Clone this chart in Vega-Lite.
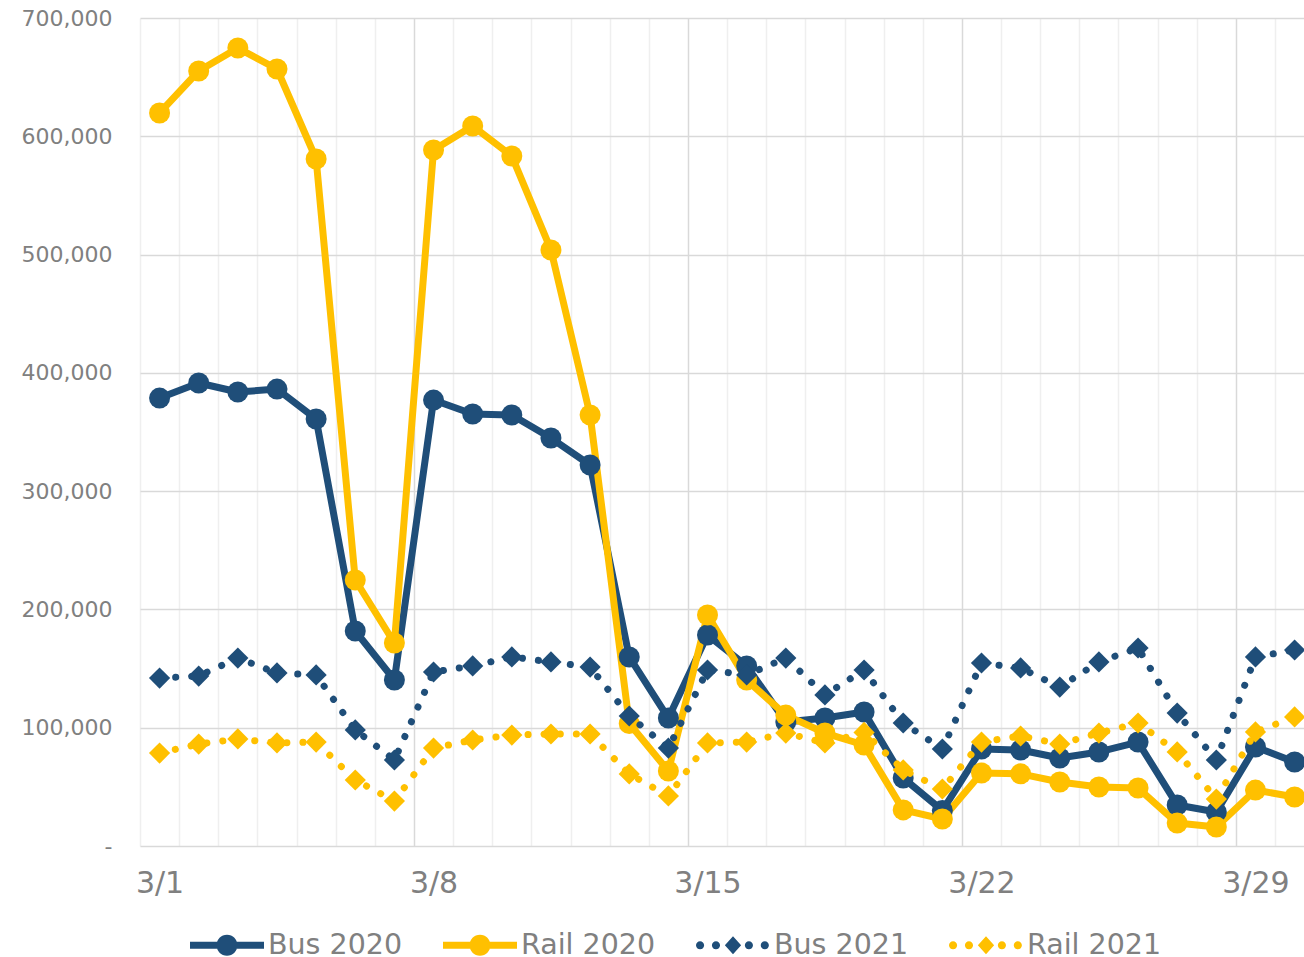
{
  "$schema": "https://vega.github.io/schema/vega-lite/v6.json",
  "width": 1164,
  "height": 828,
  "autosize": {"type": "none"},
  "padding": {"left": 140, "top": 18, "right": 0, "bottom": 111},
  "background": "white",
  "config": {
    "view": {"stroke": null},
    "font": "DejaVu Sans"
  },
  "data": {
    "values": [
      {"day": 1, "Bus 2020": 378700, "Rail 2020": 619700, "Bus 2021": 142000, "Rail 2021": 78600},
      {"day": 2, "Bus 2020": 391400, "Rail 2020": 655200, "Bus 2021": 143700, "Rail 2021": 86200},
      {"day": 3, "Bus 2020": 383800, "Rail 2020": 674600, "Bus 2021": 158900, "Rail 2021": 90500},
      {"day": 4, "Bus 2020": 386300, "Rail 2020": 656900, "Bus 2021": 146300, "Rail 2021": 87100},
      {"day": 5, "Bus 2020": 361000, "Rail 2020": 580800, "Bus 2021": 144600, "Rail 2021": 87900},
      {"day": 6, "Bus 2020": 181800, "Rail 2020": 224900, "Bus 2021": 98100, "Rail 2021": 55800},
      {"day": 7, "Bus 2020": 140300, "Rail 2020": 171600, "Bus 2021": 72700, "Rail 2021": 38000},
      {"day": 8, "Bus 2020": 377000, "Rail 2020": 588400, "Bus 2021": 147100, "Rail 2021": 82800},
      {"day": 9, "Bus 2020": 365200, "Rail 2020": 608700, "Bus 2021": 152200, "Rail 2021": 89600},
      {"day": 10, "Bus 2020": 364400, "Rail 2020": 583300, "Bus 2021": 159800, "Rail 2021": 93800},
      {"day": 11, "Bus 2020": 344900, "Rail 2020": 503900, "Bus 2021": 155600, "Rail 2021": 94700},
      {"day": 12, "Bus 2020": 322100, "Rail 2020": 364400, "Bus 2021": 151300, "Rail 2021": 94700},
      {"day": 13, "Bus 2020": 159800, "Rail 2020": 103500, "Bus 2021": 109900, "Rail 2021": 60900},
      {"day": 14, "Bus 2020": 108200, "Rail 2020": 63400, "Bus 2021": 82800, "Rail 2021": 42300},
      {"day": 15, "Bus 2020": 178400, "Rail 2020": 195300, "Bus 2021": 148800, "Rail 2021": 87100},
      {"day": 16, "Bus 2020": 152200, "Rail 2020": 140300, "Bus 2021": 144600, "Rail 2021": 87900},
      {"day": 17, "Bus 2020": 104800, "Rail 2020": 110700, "Bus 2021": 158900, "Rail 2021": 95500},
      {"day": 18, "Bus 2020": 108200, "Rail 2020": 95500, "Bus 2021": 127700, "Rail 2021": 87100},
      {"day": 19, "Bus 2020": 113300, "Rail 2020": 85400, "Bus 2021": 148800, "Rail 2021": 96000},
      {"day": 20, "Bus 2020": 57500, "Rail 2020": 30500, "Bus 2021": 104000, "Rail 2021": 64300},
      {"day": 21, "Bus 2020": 30000, "Rail 2020": 22800, "Bus 2021": 82000, "Rail 2021": 48200},
      {"day": 22, "Bus 2020": 82000, "Rail 2020": 61700, "Bus 2021": 154700, "Rail 2021": 87900},
      {"day": 23, "Bus 2020": 81200, "Rail 2020": 61000, "Bus 2021": 150500, "Rail 2021": 93000},
      {"day": 24, "Bus 2020": 74400, "Rail 2020": 54100, "Bus 2021": 134400, "Rail 2021": 86200},
      {"day": 25, "Bus 2020": 79500, "Rail 2020": 49900, "Bus 2021": 155600, "Rail 2021": 95500},
      {"day": 26, "Bus 2020": 87900, "Rail 2020": 49000, "Bus 2021": 167400, "Rail 2021": 104000},
      {"day": 27, "Bus 2020": 34700, "Rail 2020": 19400, "Bus 2021": 112400, "Rail 2021": 79500},
      {"day": 28, "Bus 2020": 28700, "Rail 2020": 16100, "Bus 2021": 72700, "Rail 2021": 39700},
      {"day": 29, "Bus 2020": 83700, "Rail 2020": 47300, "Bus 2021": 159800, "Rail 2021": 96400},
      {"day": 30, "Bus 2020": 71000, "Rail 2020": 41400, "Bus 2021": 165700, "Rail 2021": 109100}
    ]
  },
  "transform": [
    {"fold": ["Bus 2020", "Rail 2020", "Bus 2021", "Rail 2021"], "as": ["series", "riders"]}
  ],
  "encoding": {
    "x": {
      "field": "day",
      "type": "quantitative",
      "scale": {"domain": [0.5, 30.24], "nice": false, "zero": false},
      "axis": {
        "title": null,
        "values": [0.5, 1, 1.5, 2.5, 3.5, 4.5, 5.5, 6.5, 7.5, 8, 8.5, 9.5, 10.5, 11.5, 12.5, 13.5, 14.5, 15, 15.5, 16.5, 17.5, 18.5, 19.5, 20.5, 21.5, 22, 22.5, 23.5, 24.5, 25.5, 26.5, 27.5, 28.5, 29, 29.5],
        "labelExpr": "datum.value % 1 == 0 ? '3/' + datum.value : ''",
        "labelOverlap": false,
        "labelFlush": false,
        "labelFontSize": 30,
        "labelColor": "#808080",
        "labelPadding": 22,
        "ticks": false,
        "tickSize": 0,
        "domain": false,
        "grid": true,
        "gridWidth": 1.5,
        "gridColor": {"condition": {"test": "datum.value > 1 && datum.value % 7 == 0.5", "value": "#d9d9d9"}, "value": "#efefef"},
        "gridOpacity": {"condition": {"test": "datum.value % 1 == 0", "value": 0}, "value": 1}
      }
    },
    "y": {
      "field": "riders",
      "type": "quantitative",
      "scale": {"domain": [0, 700000], "nice": false},
      "axis": {
        "title": null,
        "values": [0, 100000, 200000, 300000, 400000, 500000, 600000, 700000],
        "labelExpr": "datum.value == 0 ? '-\u00a0\u00a0' : format(datum.value, ',')",
        "labelFontSize": 22,
        "labelColor": "#808080",
        "labelPadding": 28,
        "ticks": false,
        "tickSize": 0,
        "domain": false,
        "grid": true,
        "gridColor": "#d9d9d9",
        "gridWidth": 1.5
      }
    },
    "color": {
      "field": "series",
      "type": "nominal",
      "scale": {
        "domain": ["Bus 2020", "Rail 2020", "Bus 2021", "Rail 2021"],
        "range": ["#1f4e79", "#ffc000", "#1f4e79", "#ffc000"]
      },
      "legend": {
        "orient": "none",
        "legendX": 50,
        "legendY": 890,
        "direction": "horizontal",
        "columns": 4,
        "title": null,
        "padding": 0,
        "symbolSize": 5476,
        "symbolStrokeWidth": 0,
        "symbolOpacity": 1,
        "symbolType": {"expr": "indexof(datum.value, '2020') >= 0 ? 'M-1,-0.095 L-0.27,-0.095 L-0.27,0.095 L-1,0.095 Z M0.27,-0.095 L1,-0.095 L1,0.095 L0.27,0.095 Z M-0.284,0 A0.284,0.284 0 1,1 0.284,0 A0.284,0.284 0 1,1 -0.284,0 Z' : 'M-1,0 A0.11,0.11 0 1,1 -0.78,0 A0.11,0.11 0 1,1 -1,0 Z M-0.57,0 A0.11,0.11 0 1,1 -0.35,0 A0.11,0.11 0 1,1 -0.57,0 Z M0.32,0 A0.11,0.11 0 1,1 0.54,0 A0.11,0.11 0 1,1 0.32,0 Z M0.75,0 A0.11,0.11 0 1,1 0.97,0 A0.11,0.11 0 1,1 0.75,0 Z M0,-0.24 L0.22,0 L0,0.24 L-0.22,0 Z'"},
        "symbolFillColor": {"expr": "indexof(datum.value, 'Bus') >= 0 ? '#1f4e79' : '#ffc000'"},
        "labelFontSize": 28.5,
        "labelFont": "DejaVu Sans",
        "labelColor": "#808080",
        "labelOffset": 4,
        "labelLimit": 0,
        "columnPadding": 40
      }
    }
  },
  "layer": [
    {
      "transform": [{"filter": "indexof(datum.series, '2020') >= 0"}],
      "mark": {"type": "line", "strokeWidth": 7, "strokeCap": "round", "strokeJoin": "round"}
    },
    {
      "transform": [{"filter": "indexof(datum.series, '2020') >= 0"}],
      "mark": {"type": "circle", "opacity": 1, "size": 441}
    },
    {
      "transform": [{"filter": "indexof(datum.series, '2021') >= 0"}],
      "mark": {"type": "line", "strokeWidth": 7, "strokeCap": "round", "strokeJoin": "round", "strokeDash": [0.1, 16]}
    },
    {
      "transform": [{"filter": "indexof(datum.series, '2021') >= 0"}],
      "mark": {"type": "square", "opacity": 1, "size": 225, "angle": 45}
    }
  ]
}
